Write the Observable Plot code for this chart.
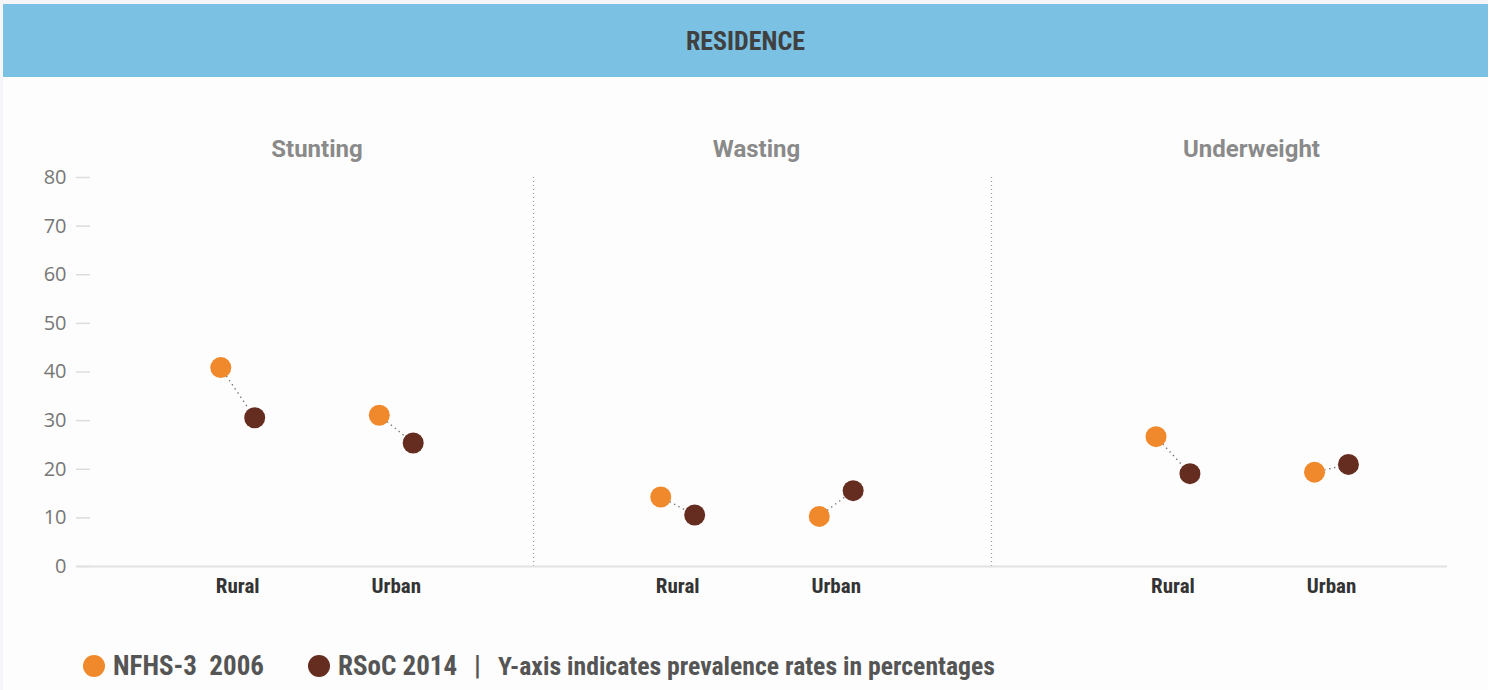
<!DOCTYPE html>
<html>
<head>
<meta charset="utf-8">
<script src="https://cdn.jsdelivr.net/npm/d3@7"></script>
<script src="https://cdn.jsdelivr.net/npm/@observablehq/plot@0.6"></script>
<style>
  html, body { margin: 0; padding: 0; background: #f6f6fa; }
  #page { position: relative; width: 1488px; height: 690px; overflow: hidden; }
  .cond { font-family: "Roboto Condensed", "Liberation Sans Narrow", "DejaVu Sans Condensed", Roboto, sans-serif; font-stretch: condensed; font-weight: bold; }
  #banner { position: absolute; left: 3px; top: 4px; width: 1485px; height: 73px; background: #7bc1e3;
            display: flex; align-items: center; justify-content: center; color: #404040; font-size: 26px; }
  #sheet { position: absolute; left: 3px; top: 77px; width: 1485px; height: 613px; background: #fdfdfd; }
  .panel { position: absolute; top: 120px; }
  #legend { position: absolute; left: 83px; top: 650px; height: 32px; display: flex; align-items: center;
            color: #555; font-size: 27px; white-space: pre; }
  .sw { display: inline-block; width: 22px; height: 22px; border-radius: 50%; margin-right: 8px; }
</style>
</head>
<body>
<div id="page">
  <div id="sheet"></div>
  <div id="banner" class="cond">RESIDENCE</div>
  <div id="p0" class="panel" style="left:0px"></div>
  <div id="p1" class="panel" style="left:533px"></div>
  <div id="p2" class="panel" style="left:991px"></div>
  <div id="legend" class="cond"></div>
</div>
<script>
// ---- data ----
const panels = ["Stunting", "Wasting", "Underweight"];
const categories = ["Rural", "Urban"];
const seriesNames = ["NFHS-3  2006", "RSoC 2014"];
const seriesColors = ["#f0892b", "#652c20"];
const stuntingNFHS = [40.9, 31.1];
const stuntingRSoC = [30.6, 25.4];
const wastingNFHS = [14.3, 10.3];
const wastingRSoC = [10.6, 15.6];
const underweightNFHS = [26.7, 19.4];
const underweightRSoC = [19.1, 21.0];
const yTicks = [0, 10, 20, 30, 40, 50, 60, 70, 80];
const noteText = "Y-axis indicates prevalence rates in percentages";

const panelValues = [
  [stuntingNFHS, stuntingRSoC],
  [wastingNFHS, wastingRSoC],
  [underweightNFHS, underweightRSoC]
];

// ---- layout (styling only) ----
const layouts = [
  {width: 533, marginLeft: 90, marginRight: 0, domain: [-0.929, 1.866], titleDx: 5},
  {width: 458, marginLeft: 0, marginRight: 0, domain: [-0.910, 1.980], titleDx: -6},
  {width: 497, marginLeft: 0, marginRight: 41, domain: [-1.145, 1.732], titleDx: 32}
];
const dodge = 0.107; // half-gap between the two survey dots, in category units

panels.forEach((name, p) => {
  const [a, b] = panelValues[p];
  const L = layouts[p];
  const pts = [];
  categories.forEach((c, i) => {
    pts.push({panel: name, cat: c, i, s: 0, v: a[i]});
    pts.push({panel: name, cat: c, i, s: 1, v: b[i]});
  });
  const pairs = categories.map((c, i) => ({cat: c, i, v0: a[i], v1: b[i]}));
  const xOf = d => d.i + (d.s === 0 ? -dodge : dodge);
  const marks = [
    Plot.ruleY([0], {stroke: "#e2e2e2", strokeWidth: 2, insetLeft: p === 0 ? -14 : 0}),
    Plot.text([name], {frameAnchor: "top", lineAnchor: "middle", dy: -28, dx: L.titleDx, fontSize: 24, fontWeight: "bold",
      fill: "#8a8a8a", fontFamily: "Roboto, sans-serif"}),
    Plot.axisX({ticks: [0, 1], tickFormat: i => categories[i], tickSize: 0, tickPadding: 12, fontSize: 21,
      fontWeight: "bold", fill: "#333", label: null,
      fontFamily: "'Roboto Condensed', 'Liberation Sans Narrow', Roboto, sans-serif"}),
    Plot.link(pairs, {x1: d => d.i - dodge, y1: "v0", x2: d => d.i + dodge, y2: "v1",
      stroke: "#777", strokeWidth: 1.4, strokeDasharray: "1.4,3.6"}),
    Plot.dot(pts, {x: xOf, y: "v", r: 10.5, fill: d => seriesColors[d.s], stroke: "none"})
  ];
  if (p === 0) {
    marks.unshift(Plot.axisY({ticks: yTicks, tickSize: 14, tickPadding: 10, stroke: "#dcdcdc", strokeWidth: 1.5,
      fill: "#777", fontSize: 20, label: null, fontFamily: "'Open Sans', sans-serif"}));
  } else {
    marks.unshift(Plot.ruleX([L.domain[0]], {y1: 0, y2: 80, stroke: "#999", strokeWidth: 1.2, strokeDasharray: "1,3"}));
  }
  const chart = Plot.plot({
    width: L.width,
    height: 486,
    marginTop: 57,
    marginBottom: 40,
    marginLeft: L.marginLeft,
    marginRight: L.marginRight,
    style: {background: "transparent", overflow: "visible"},
    x: {type: "linear", domain: L.domain, axis: null},
    y: {domain: [0, 80], axis: null},
    color: {type: "identity"},
    marks
  });
  document.getElementById("p" + p).appendChild(chart);
});

// ---- legend ----
const legend = document.getElementById("legend");
seriesNames.forEach((s, k) => {
  const sw = document.createElement("span");
  sw.className = "sw";
  sw.style.background = seriesColors[k];
  if (k === 1) sw.style.marginLeft = "44px";
  legend.appendChild(sw);
  const t = document.createElement("span");
  t.textContent = s;
  legend.appendChild(t);
});
const bar = document.createElement("span");
bar.textContent = "|";
bar.style.marginLeft = "17px";
legend.appendChild(bar);
const note = document.createElement("span");
note.textContent = noteText;
note.style.marginLeft = "17px";
note.style.fontSize = "25.7px";
legend.appendChild(note);
</script>
</body>
</html>
